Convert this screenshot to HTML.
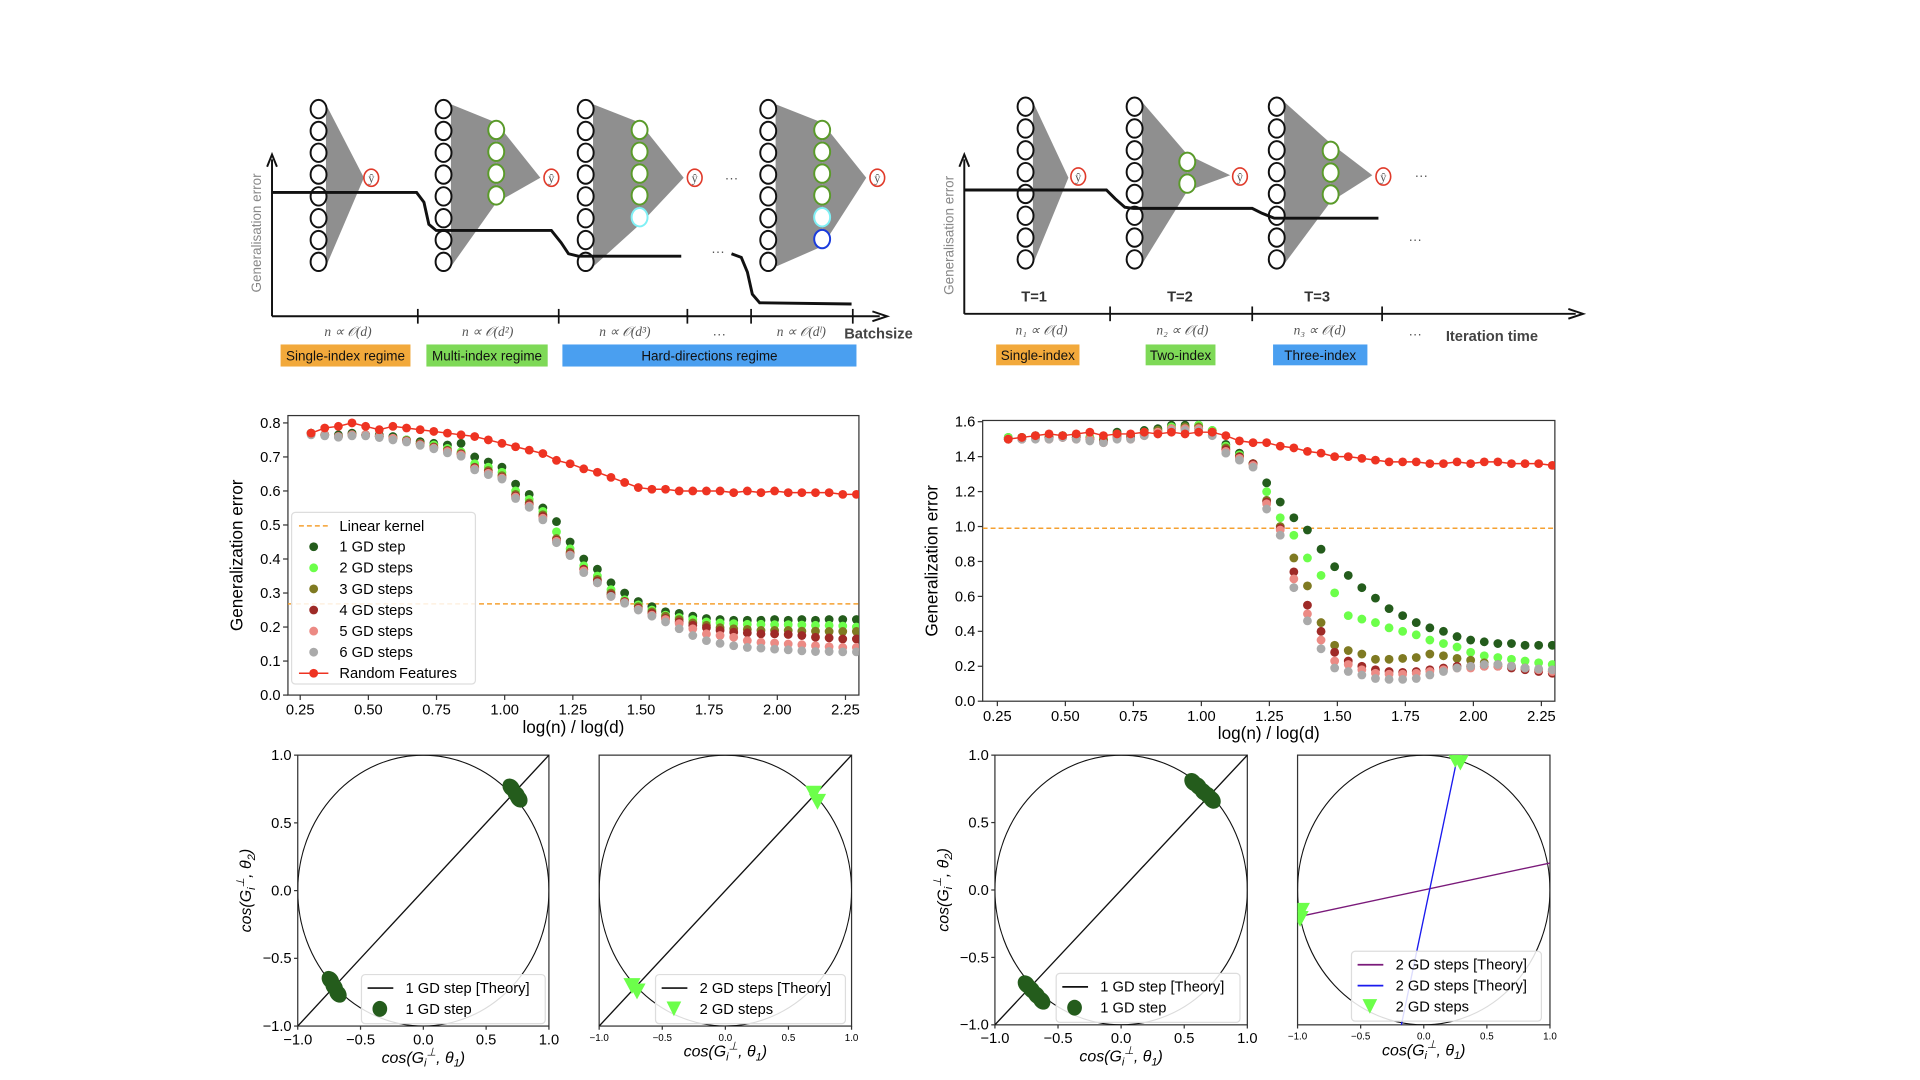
<!DOCTYPE html>
<html><head><meta charset="utf-8">
<style>
html,body{margin:0;padding:0;background:#fff;}
svg{display:block;font-family:"Liberation Sans",sans-serif;}
</style></head>
<body>
<svg id="root" width="1920" height="1080" viewBox="0 0 1567 881" preserveAspectRatio="none" xmlns="http://www.w3.org/2000/svg">
<rect width="1567" height="881" fill="#fff"/>
<g id="diagL"></g>
<g id="diagR"></g>
<g id="chartL"></g>
<g id="chartR"></g>
<g id="p1"></g>
<g id="p2"></g>
<g id="p3"></g>
<g id="p4"></g>
</svg>
<script>
// ---------- data ----------
const xStart = 0.29, xStep = 0.05;
const seriesNames = ["1 GD step","2 GD steps","3 GD steps","4 GD steps","5 GD steps","6 GD steps","Random Features"];
const seriesColors = ["#245c1c","#6cff4a","#7f7a22","#9e2a27","#ec8a84","#aaaaaa","#ee3322"];
const leftTicksX = [0.25,0.50,0.75,1.00,1.25,1.50,1.75,2.00,2.25];
const leftTicksY = [0.0,0.1,0.2,0.3,0.4,0.5,0.6,0.7,0.8];
const rightTicksY = [0.0,0.2,0.4,0.6,0.8,1.0,1.2,1.4,1.6];
const leftLinear = 0.268;
const rightLinear = 0.99;
const L1 = [.77,.765,.765,.77,.765,.765,.76,.75,.745,.74,.735,.74,.70,.685,.67,.62,.59,.55,.51,.45,.40,.37,.33,.30,.275,.26,.245,.24,.232,.225,.222,.22,.22,.22,.222,.22,.222,.22,.222,.222,.222];
const L2 = [.77,.765,.76,.765,.765,.76,.755,.75,.74,.735,.725,.715,.68,.67,.655,.60,.575,.54,.48,.43,.38,.35,.31,.28,.265,.25,.235,.228,.222,.215,.212,.21,.208,.208,.207,.207,.206,.205,.205,.203,.20];
const L3 = [.77,.765,.76,.765,.765,.76,.755,.748,.74,.73,.72,.71,.67,.66,.645,.59,.565,.53,.46,.42,.37,.34,.30,.275,.26,.245,.232,.222,.212,.205,.198,.195,.193,.19,.19,.19,.188,.188,.187,.187,.187];
const L4 = [.77,.765,.76,.765,.765,.76,.755,.748,.738,.728,.718,.708,.668,.655,.64,.585,.56,.525,.455,.415,.37,.335,.295,.275,.255,.24,.225,.215,.205,.198,.19,.185,.183,.18,.18,.178,.175,.17,.168,.165,.165];
const L5 = [.77,.765,.76,.765,.765,.76,.755,.746,.736,.726,.716,.706,.665,.652,.638,.582,.556,.52,.452,.412,.365,.33,.29,.272,.252,.235,.222,.21,.195,.18,.175,.17,.16,.155,.153,.15,.148,.145,.142,.14,.14];
const L6 = [.765,.762,.758,.762,.762,.757,.75,.744,.734,.724,.712,.702,.662,.648,.635,.578,.552,.515,.448,.41,.36,.33,.29,.27,.25,.232,.215,.195,.175,.16,.152,.145,.14,.138,.135,.133,.13,.128,.128,.127,.127];
const LRF = [.77,.785,.79,.80,.79,.78,.79,.785,.78,.775,.77,.765,.76,.75,.74,.73,.72,.71,.69,.68,.665,.655,.64,.625,.61,.605,.605,.60,.60,.60,.60,.595,.60,.595,.60,.595,.595,.595,.595,.59,.59];
const R1 = [1.51,1.51,1.52,1.51,1.52,1.52,1.51,1.50,1.54,1.52,1.55,1.56,1.58,1.58,1.58,1.55,1.47,1.42,1.36,1.25,1.14,1.05,0.98,0.87,0.77,0.72,0.65,0.59,0.53,0.49,0.45,0.42,0.40,0.37,0.35,0.34,0.33,0.33,0.32,0.32,0.32];
const R2 = [1.51,1.51,1.51,1.52,1.52,1.51,1.51,1.50,1.53,1.52,1.54,1.55,1.57,1.57,1.58,1.55,1.46,1.41,1.36,1.20,1.05,0.95,0.82,0.72,0.62,0.49,0.47,0.45,0.42,0.40,0.38,0.35,0.33,0.31,0.28,0.26,0.25,0.24,0.23,0.22,0.21];
const R3 = [1.50,1.51,1.51,1.51,1.52,1.51,1.50,1.49,1.52,1.51,1.53,1.55,1.56,1.57,1.57,1.54,1.45,1.40,1.36,1.15,1.00,0.82,0.66,0.45,0.32,0.29,0.27,0.24,0.24,0.245,0.25,0.27,0.26,0.245,0.235,0.22,0.21,0.20,0.19,0.18,0.17];
const R4 = [1.50,1.50,1.51,1.51,1.51,1.51,1.50,1.49,1.51,1.51,1.53,1.54,1.56,1.56,1.56,1.54,1.44,1.40,1.36,1.14,0.99,0.74,0.55,0.40,0.28,0.23,0.20,0.18,0.17,0.165,0.17,0.18,0.19,0.20,0.20,0.20,0.20,0.19,0.18,0.17,0.16];
const R5 = [1.50,1.50,1.51,1.50,1.51,1.50,1.50,1.48,1.51,1.50,1.52,1.54,1.56,1.56,1.56,1.53,1.43,1.39,1.35,1.13,0.98,0.70,0.50,0.35,0.23,0.21,0.18,0.16,0.155,0.155,0.16,0.17,0.18,0.19,0.19,0.20,0.20,0.20,0.19,0.18,0.17];
const R6 = [1.50,1.50,1.50,1.50,1.51,1.50,1.49,1.48,1.50,1.50,1.52,1.53,1.55,1.55,1.55,1.52,1.42,1.38,1.34,1.10,0.95,0.65,0.46,0.30,0.19,0.17,0.15,0.13,0.125,0.125,0.13,0.15,0.17,0.19,0.20,0.21,0.21,0.20,0.19,0.185,0.18];
const RRF = [1.50,1.51,1.52,1.53,1.52,1.53,1.54,1.52,1.53,1.53,1.54,1.53,1.54,1.53,1.54,1.54,1.52,1.49,1.48,1.48,1.46,1.45,1.43,1.42,1.40,1.40,1.39,1.38,1.37,1.37,1.37,1.36,1.36,1.37,1.36,1.37,1.37,1.36,1.36,1.36,1.35];
const cosTicks = [-1.0,-0.5,0.0,0.5,1.0];
const p1X = [0.70,0.74,0.76,-0.74,-0.71,-0.68];
const p1Y = [0.76,0.71,0.68,-0.66,-0.71,-0.76];
const p2X = [0.70,0.73,-0.74,-0.70];
const p2Y = [0.72,0.66,-0.70,-0.74];
const p3X = [0.57,0.61,0.65,0.69,0.72,-0.75,-0.71,-0.67,-0.63];
const p3Y = [0.80,0.77,0.73,0.70,0.67,-0.70,-0.74,-0.78,-0.82];
const p4X = [0.25,0.29,-0.97,-0.98];
const p4Y = [0.97,0.95,-0.15,-0.21];

const NS = "http://www.w3.org/2000/svg";
function mk(tag, attrs, parent){const e=document.createElementNS(NS,tag);for(const k in attrs)e.setAttribute(k,attrs[k]);parent.appendChild(e);return e;}
function txt(s, attrs, parent){const e=mk("text",attrs,parent);e.textContent=s;return e;}

// ---------- top diagrams ----------
function column(g, x, ys, colors){
  ys.forEach((y,i)=>{const c=mk("ellipse",{cx:x,cy:y,rx:6.5,ry:7.5,fill:"#fff",stroke:colors[i],"stroke-width":1.6},g);
  
  });
}
function yhat(g,x,y){const c=mk("ellipse",{cx:x,cy:y,rx:6,ry:7,fill:"#fff",stroke:"#e03a2a","stroke-width":1.3},g);
  
  
  const t=txt("ŷ",{x:x,y:y+4,"font-size":10,"text-anchor":"middle","font-family":"Liberation Serif, serif",fill:"#555"},g);
  
  }
function net(g,x0,top,n,apex,hid,hidColors,out){
  const ys=[];for(let i=0;i<n;i++)ys.push(top+i*17.8);
  const bot=ys[ys.length-1];
  if(hid){
    const hy=hidColors.map((c,i)=>hid.top+i*17.8);
    const p=mk("polygon",{points:`${x0+6},${top-4} ${hid.x},${hy[0]-6} ${hid.x},${hy[hy.length-1]+6} ${x0+6},${bot+4}`,fill:"#8f8f8f"},g);
    
    
    const p2=mk("polygon",{points:`${hid.x},${hy[0]-6} ${apex[0]},${apex[1]} ${hid.x},${hy[hy.length-1]+6}`,fill:"#8f8f8f"},g);
    
    
    column(g,x0,ys,ys.map(()=>"#111"));
    column(g,hid.x,hy,hidColors);
  } else {
    const p=mk("polygon",{points:`${x0+6},${top-4} ${apex[0]},${apex[1]} ${x0+6},${bot+4}`,fill:"#8f8f8f"},g);
    
    
    column(g,x0,ys,ys.map(()=>"#111"));
  }
  yhat(g,out[0],out[1]);
}
function box(g,x,y,w,h,fill,label,name){
  const r=mk("rect",{x:x,y:y,width:w,height:h,fill:fill},g);
  
  
  const t=txt(label,{x:x+w/2,y:y+h/2+4,"font-size":11,"text-anchor":"middle",fill:"#111"},g);
  
  
}
function ital(g,x,y,s,name){const t=txt(s,{x:x,y:y,"font-size":11,"text-anchor":"middle","font-family":"Liberation Serif, serif","font-style":"italic",fill:"#555"},g);
  
  }
function curve(g,pts,name){const p=mk("polyline",{points:pts,fill:"none",stroke:"#111","stroke-width":2.4},g);
  
  }
(function(){
  const g=document.getElementById("diagL");
  const ax=mk("path",{d:"M222,258 V130 M218,136 L222,126 L226,136 M222,258 H718 M712,254 L724,258 L712,262",stroke:"#111","stroke-width":1.6,fill:"none"},g);
  
  
  [341,456,561,613,696].forEach(x=>{const t=mk("line",{x1:x,x2:x,y1:252,y2:264,stroke:"#111","stroke-width":1.4},g);
    
    });
  const yl=txt("Generalisation error",{transform:"translate(213,190) rotate(-90)","font-size":11,"text-anchor":"middle",fill:"#888"},g);
  
  
  net(g,260,89,8,[297,145],null,null,[303,145]);
  net(g,362,89,8,[441,145],{x:405,top:106},["#5a9a2a","#5a9a2a","#5a9a2a","#5a9a2a"],[450,145]);
  net(g,478,89,8,[558,145],{x:522,top:106},["#5a9a2a","#5a9a2a","#5a9a2a","#5a9a2a","#7ff0f5"],[567,145]);
  net(g,627,89,8,[707,145],{x:671,top:106},["#5a9a2a","#5a9a2a","#5a9a2a","#5a9a2a","#7ff0f5","#1a3bdd"],[716,145]);
  curve(g,"222,157 340,157 346,165 350,183 356,188 450,188 458,198 464,207 472,209 556,209","error-curve");
  curve(g,"597,207 605,210 610,222 614,240 620,247 695,248","error-curve-late");
  [[597,149],[586,209],[587,276]].forEach(p=>{const t=txt("···",{x:p[0],y:p[1],"font-size":11,"text-anchor":"middle",fill:"#555"},g);
    
    });
  ital(g,284,274,"n ∝ 𝒪(d)","regime-1-scale");
  ital(g,398,274,"n ∝ 𝒪(d²)","regime-2-scale");
  ital(g,510,274,"n ∝ 𝒪(d³)","regime-3-scale");
  ital(g,654,274,"n ∝ 𝒪(dˡ)","regime-l-scale");
  const bs=txt("Batchsize",{x:689,y:276,"font-size":12,"font-weight":"bold",fill:"#444"},g);
  
  
  box(g,229,281,106,18,"#f2a93b","Single-index regime","single-index-regime-box");
  box(g,348,281,99,18,"#7ed957","Multi-index regime","multi-index-regime-box");
  box(g,459,281,240,18,"#4a9ff0","Hard-directions regime","hard-directions-regime-box");
})();
(function(){
  const g=document.getElementById("diagR");
  const ax=mk("path",{d:"M787,256 V130 M783,136 L787,126 L791,136 M787,256 H1286 M1280,252 L1292,256 L1280,260",stroke:"#111","stroke-width":1.6,fill:"none"},g);
  
  
  [906,1022,1128].forEach(x=>{const t=mk("line",{x1:x,x2:x,y1:250,y2:262,stroke:"#111","stroke-width":1.4},g);
    
    });
  const yl=txt("Generalisation error",{transform:"translate(778,192) rotate(-90)","font-size":11,"text-anchor":"middle",fill:"#888"},g);
  
  
  net(g,837,87,8,[872,145],null,null,[880,144]);
  net(g,926,87,8,[1004,143],{x:969,top:132},["#5a9a2a","#5a9a2a"],[1012,144]);
  net(g,1042,87,8,[1120,143],{x:1086,top:123},["#5a9a2a","#5a9a2a","#5a9a2a"],[1129,144]);
  curve(g,"787,155 903,155 910,162 918,169 925,170 1022,170 1030,174 1040,178 1125,178","error-curve");
  [["T=1",844],["T=2",963],["T=3",1075]].forEach(a=>{const t=txt(a[0],{x:a[1],y:246,"font-size":12,"font-weight":"bold","text-anchor":"middle",fill:"#333"},g);
    
    });
  [[1160,147],[1155,199],[1155,276]].forEach(p=>{const t=txt("···",{x:p[0],y:p[1],"font-size":11,"text-anchor":"middle",fill:"#555"},g);
    
    });
  ital(g,850,273,"n₁ ∝ 𝒪(d)","stage-1-scale");
  ital(g,965,273,"n₂ ∝ 𝒪(d)","stage-2-scale");
  ital(g,1077,273,"n₃ ∝ 𝒪(d)","stage-3-scale");
  const it=txt("Iteration time",{x:1180,y:278,"font-size":12,"font-weight":"bold",fill:"#444"},g);
  
  
  box(g,813,281,68,17,"#f2a93b","Single-index","single-index-box");
  box(g,935,281,57,17,"#7ed957","Two-index","two-index-box");
  box(g,1039,281,77,17,"#4a9ff0","Three-index","three-index-box");
})();

// ---------- error charts ----------
function errChart(g, box, xr, yr, ticksY, linear, series, legend){
  const sx=v=>box.x0+(v-xr[0])*(box.x1-box.x0)/(xr[1]-xr[0]);
  const sy=v=>box.y1-(v-yr[0])*(box.y1-box.y0)/(yr[1]-yr[0]);
  const clip="clip"+g.id;
  const cp=mk("clipPath",{id:clip},g);mk("rect",{x:box.x0,y:box.y0,width:box.x1-box.x0,height:box.y1-box.y0},cp);
  const frame=mk("rect",{x:box.x0,y:box.y0,width:box.x1-box.x0,height:box.y1-box.y0,fill:"none",stroke:"#333","stroke-width":1},g);
  
  
  leftTicksX.forEach(v=>{const x=sx(v);
    const t=mk("line",{x1:x,x2:x,y1:box.y1,y2:box.y1+4,stroke:"#333"},g);
    
    
    const l=txt(v.toFixed(2),{x:x,y:box.y1+16,"font-size":12,"text-anchor":"middle"},g);
    
    });
  ticksY.forEach(v=>{const y=sy(v);
    const t=mk("line",{x1:box.x0-4,x2:box.x0,y1:y,y2:y,stroke:"#333"},g);
    
    
    const l=txt(v.toFixed(1),{x:box.x0-6,y:y+4,"font-size":12,"text-anchor":"end"},g);
    
    });
  const xt=txt("log(n) / log(d)",{x:(box.x0+box.x1)/2,y:box.y1+31,"font-size":14,"text-anchor":"middle"},g);
  
  
  const yt=txt("Generalization error",{transform:`translate(${box.x0-37},${(box.y0+box.y1)/2}) rotate(-90)`,"font-size":14,"text-anchor":"middle"},g);
  
  
  const pg=mk("g",{"clip-path":`url(#${clip})`},g);
  const lk=mk("line",{x1:box.x0,x2:box.x1,y1:sy(linear),y2:sy(linear),stroke:"#f5a030","stroke-width":1.2,"stroke-dasharray":"4,2.5"},pg);
  
  
  series.forEach((arr,si)=>{
    const sg=mk("g",{},pg);
    
    
    if(si===6){const pl=mk("polyline",{points:arr.map((v,i)=>sx(xStart+i*xStep)+","+sy(v)).join(" "),fill:"none",stroke:seriesColors[si],"stroke-width":1.2},sg);
      
      }
    arr.forEach((v,i)=>{const c=mk("circle",{cx:sx(xStart+i*xStep),cy:sy(v),r:3.6,fill:seriesColors[si]},sg);
      
      });
  });
  if(legend){
    const lg=mk("g",{},g);
    
    
    const r=mk("rect",{x:legend.x,y:legend.y,width:150,height:140,rx:3,fill:"#fff","fill-opacity":0.85,stroke:"#ddd"},lg);
    
    
    const l0=mk("line",{x1:legend.x+6,x2:legend.x+30,y1:legend.y+11,y2:legend.y+11,stroke:"#f5a030","stroke-width":1.2,"stroke-dasharray":"4,2.5"},lg);
    
    
    const t0=txt("Linear kernel",{x:legend.x+39,y:legend.y+15,"font-size":12},lg);
    
    
    seriesNames.forEach((n,i)=>{const y=legend.y+28+i*17.2;
      if(i===6){const ln=mk("line",{x1:legend.x+6,x2:legend.x+30,y1:y,y2:y,stroke:seriesColors[i],"stroke-width":1.2},lg);
        
        }
      const c=mk("circle",{cx:legend.x+18,cy:y,r:3.6,fill:seriesColors[i]},lg);
      
      
      const t=txt(n,{x:legend.x+39,y:y+4,"font-size":12},lg);
      
      });
  }
}
errChart(document.getElementById("chartL"),{x0:235,x1:701,y0:339,y1:567},[0.205,2.2993],[0,0.8216],leftTicksY,leftLinear,[L1,L2,L3,L4,L5,L6,LRF],{x:238,y:418});
errChart(document.getElementById("chartR"),{x0:802,x1:1269,y0:343,y1:572},[0.196,2.2996],[0,1.607],rightTicksY,rightLinear,[R1,R2,R3,R4,R5,R6,RRF],null);

// ---------- cosine plots ----------
function cosPlot(g, b, opts){
  const sx=v=>b.x0+(v+1)*(b.x1-b.x0)/2;
  const sy=v=>b.y1-(v+1)*(b.y1-b.y0)/2;
  const clip="clip"+g.id;
  const cp=mk("clipPath",{id:clip},g);mk("rect",{x:b.x0,y:b.y0,width:b.x1-b.x0,height:b.y1-b.y0},cp);
  const fr=mk("rect",{x:b.x0,y:b.y0,width:b.x1-b.x0,height:b.y1-b.y0,fill:"none",stroke:"#333"},g);
  
  
  const pg=mk("g",{"clip-path":`url(#${clip})`},g);
  const ci=mk("ellipse",{cx:sx(0),cy:sy(0),rx:(b.x1-b.x0)/2,ry:(b.y1-b.y0)/2,fill:"none",stroke:"#111","stroke-width":0.9},pg);
  
  
  opts.lines.forEach(l=>{const ln=mk("line",{x1:sx(l[0]),y1:sy(l[1]),x2:sx(l[2]),y2:sy(l[3]),stroke:l[4],"stroke-width":1.1},pg);
    
    });
  opts.xs.forEach((v,i)=>{const x=sx(v),y=sy(opts.ys[i]);let m;
    if(opts.marker==="tri"){m=mk("polygon",{points:`${x-7},${y-6} ${x+7},${y-6} ${x},${y+7}`,fill:"#6cff4a"},pg);}
    else{m=mk("ellipse",{cx:x,cy:y,rx:6.5,ry:8,fill:"#245c1c",transform:`rotate(-40 ${x} ${y})`},pg);}
    
    });
  const fs=opts.small?8:12;
  cosTicks.forEach(v=>{const x=sx(v);
    const t=mk("line",{x1:x,x2:x,y1:b.y1,y2:b.y1+3,stroke:"#333"},g);
    
    
    const l=txt(v.toFixed(1).replace("-","−"),{x:x,y:b.y1+(opts.small?12:15),"font-size":fs,"text-anchor":"middle"},g);
    
    
    if(opts.yticks){const y=sy(v);
      const ty=mk("line",{x1:b.x0-3,x2:b.x0,y1:y,y2:y,stroke:"#333"},g);
      
      
      const ly=txt(v.toFixed(1).replace("-","−"),{x:b.x0-5,y:y+4,"font-size":12,"text-anchor":"end"},g);
      
      }
  });
  const xt=txt("",{x:(b.x0+b.x1)/2,y:b.y1+(opts.small?25:30),"font-size":13,"text-anchor":"middle","font-style":"italic"},g);
  xt.innerHTML='cos(G<tspan font-size="9" dy="3">i</tspan><tspan font-size="9" dy="-9">⊥</tspan><tspan dy="6">, θ</tspan><tspan font-size="9" dy="3">1</tspan><tspan dy="-3">)</tspan>';
  
  
  if(opts.yticks){const yt=txt("",{transform:`translate(${b.x0-38},${(b.y0+b.y1)/2}) rotate(-90)`,"font-size":13,"text-anchor":"middle","font-style":"italic"},g);
    yt.innerHTML='cos(G<tspan font-size="9" dy="3">i</tspan><tspan font-size="9" dy="-9">⊥</tspan><tspan dy="6">, θ</tspan><tspan font-size="9" dy="3">2</tspan><tspan dy="-3">)</tspan>';
    
    }
  const lg=mk("g",{},g);
  
  
  const L=opts.legend;
  const r=mk("rect",{x:L.x,y:L.y,width:L.w,height:L.items.length*17+6,rx:3,fill:"#fff","fill-opacity":0.85,stroke:"#ddd"},lg);
  
  
  L.items.forEach((it,i)=>{const y=L.y+11+i*17;let m;
    if(it[1]==="line"){m=mk("line",{x1:L.x+5,x2:L.x+26,y1:y,y2:y,stroke:it[2],"stroke-width":1.4},lg);}
    else if(it[1]==="tri"){m=mk("polygon",{points:`${L.x+9},${y-6} ${L.x+21},${y-6} ${L.x+15},${y+6}`,fill:"#6cff4a"},lg);}
    else{m=mk("ellipse",{cx:L.x+15,cy:y,rx:6,ry:6.5,fill:"#245c1c"},lg);}
    
    
    const t=txt(it[0],{x:L.x+36,y:y+4,"font-size":12},lg);
    
    });
}
cosPlot(document.getElementById("p1"),{x0:243,x1:448,y0:616,y1:837},{lines:[[-1,-1,1,1,"#111"]],xs:p1X,ys:p1Y,marker:"circ",yticks:true,small:false,legend:{x:295,y:795,w:150,items:[["1 GD step [Theory]","line","#111"],["1 GD step","circ"]]}});
cosPlot(document.getElementById("p2"),{x0:489,x1:695,y0:616,y1:837},{lines:[[-1,-1,1,1,"#111"]],xs:p2X,ys:p2Y,marker:"tri",yticks:false,small:true,legend:{x:535,y:795,w:155,items:[["2 GD steps [Theory]","line","#111"],["2 GD steps","tri"]]}});
cosPlot(document.getElementById("p3"),{x0:812,x1:1018,y0:616,y1:836},{lines:[[-1,-1,1,1,"#111"]],xs:p3X,ys:p3Y,marker:"circ",yticks:true,small:false,legend:{x:862,y:794,w:150,items:[["1 GD step [Theory]","line","#111"],["1 GD step","circ"]]}});
cosPlot(document.getElementById("p4"),{x0:1059,x1:1265,y0:616,y1:836},{lines:[[-1,-0.2,1,0.2,"#7a1a7a"],[-0.2,-1.1,0.27,1.0,"#1a1aee"]],xs:p4X,ys:p4Y,marker:"tri",yticks:false,small:true,legend:{x:1103,y:776,w:155,items:[["2 GD steps [Theory]","line","#7a1a7a"],["2 GD steps [Theory]","line","#1a1aee"],["2 GD steps","tri"]]}});
</script>
</body></html>
